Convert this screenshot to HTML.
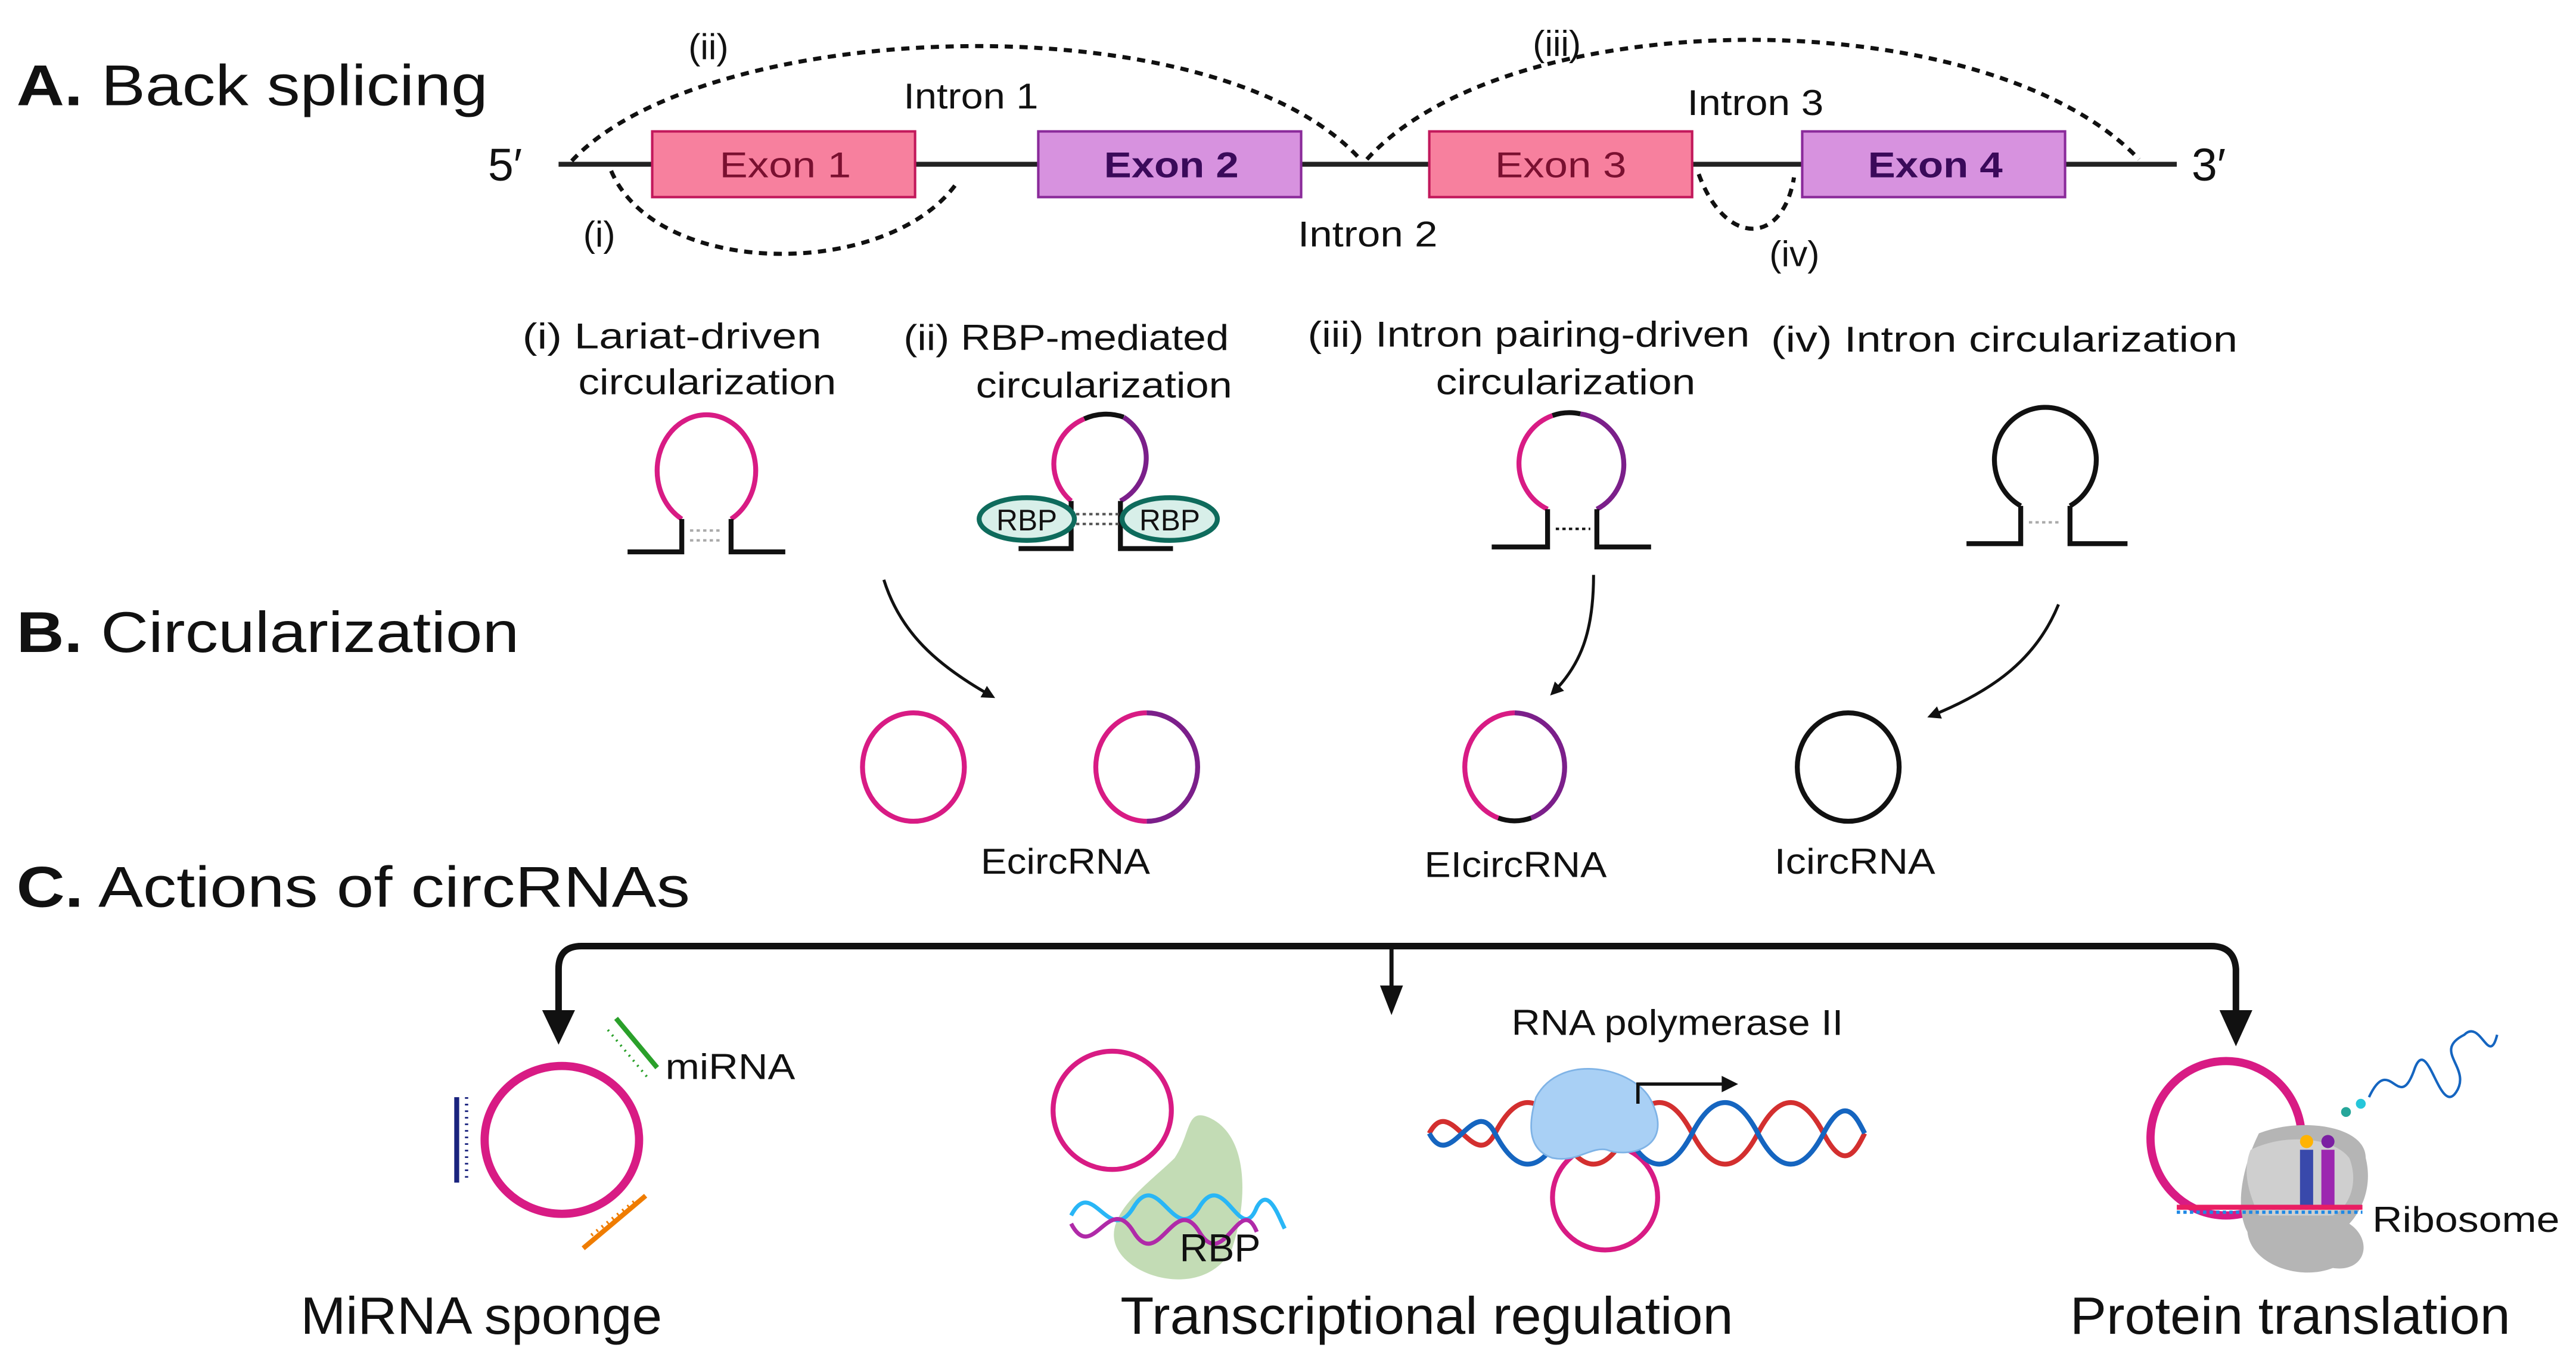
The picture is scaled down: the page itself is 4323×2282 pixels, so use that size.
<!DOCTYPE html>
<html><head><meta charset="utf-8"><style>
html,body{margin:0;padding:0;background:#fff;}
svg{display:block;}
text{font-family:"Liberation Sans",sans-serif;fill:#111;}
</style></head><body>
<svg width="4323" height="2282" viewBox="0 0 1568 828" preserveAspectRatio="none" xmlns="http://www.w3.org/2000/svg">
<defs>
<marker id="ah" markerWidth="8" markerHeight="8" refX="6" refY="4" orient="auto" markerUnits="userSpaceOnUse"><path d="M0,0 L8,4 L0,8 Z" fill="#111"/></marker>
</defs>
<!-- Section titles -->
<text x="10" y="64" font-size="35" textLength="287" lengthAdjust="spacingAndGlyphs"><tspan font-weight="bold">A.</tspan> Back splicing</text>
<text x="10" y="397" font-size="35" textLength="306" lengthAdjust="spacingAndGlyphs"><tspan font-weight="bold">B.</tspan> Circularization</text>
<text x="10" y="552" font-size="35" textLength="410" lengthAdjust="spacingAndGlyphs"><tspan font-weight="bold">C.</tspan> Actions of circRNAs</text>

<!-- Gene -->
<line x1="340" y1="100" x2="1325" y2="100" stroke="#222" stroke-width="3"/>
<text x="297" y="110" font-size="28">5′</text>
<text x="1334" y="110" font-size="28">3′</text>
<rect x="397" y="80" width="160" height="40" fill="#f7809e" stroke="#c2185b" stroke-width="1.5"/>
<rect x="632" y="80" width="160" height="40" fill="#d792df" stroke="#8a2a9a" stroke-width="1.5"/>
<rect x="870" y="80" width="160" height="40" fill="#f7809e" stroke="#c2185b" stroke-width="1.5"/>
<rect x="1097" y="80" width="160" height="40" fill="#d792df" stroke="#8a2a9a" stroke-width="1.5"/>
<text x="438" y="108" font-size="22" textLength="80" lengthAdjust="spacingAndGlyphs" style="fill:#7a1030">Exon 1</text>
<text x="672" y="108" font-size="22" textLength="82" lengthAdjust="spacingAndGlyphs" font-weight="bold" style="fill:#3a0a5a">Exon 2</text>
<text x="910" y="108" font-size="22" textLength="80" lengthAdjust="spacingAndGlyphs" style="fill:#7a1030">Exon 3</text>
<text x="1137" y="108" font-size="22" textLength="82" lengthAdjust="spacingAndGlyphs" font-weight="bold" style="fill:#3a0a5a">Exon 4</text>
<g fill="none" stroke="#111" stroke-width="2.5" stroke-dasharray="5,4">
<path d="M348,98 C430,10 740,0 828,97"/>
<path d="M832,97 C920,0 1210,0 1302,97"/>
<path d="M372,104 C400,170 540,170 582,112"/>
<path d="M1034,106 C1050,150 1085,150 1092,108"/>
</g>
<g font-size="22" style="fill:#333">
<text x="419" y="36">(ii)</text>
<text x="933" y="34">(iii)</text>
<text x="550" y="66" textLength="82" lengthAdjust="spacingAndGlyphs">Intron 1</text>
<text x="1027" y="70" textLength="83" lengthAdjust="spacingAndGlyphs">Intron 3</text>
<text x="355" y="150">(i)</text>
<text x="790" y="150" textLength="85" lengthAdjust="spacingAndGlyphs">Intron 2</text>
<text x="1077" y="162">(iv)</text>
</g>

<!-- mechanism labels -->
<g font-size="22">
<text x="318" y="212" textLength="182" lengthAdjust="spacingAndGlyphs">(i) Lariat-driven</text>
<text x="352" y="240" textLength="157" lengthAdjust="spacingAndGlyphs">circularization</text>
<text x="550" y="213" textLength="198" lengthAdjust="spacingAndGlyphs">(ii) RBP-mediated</text>
<text x="594" y="242" textLength="156" lengthAdjust="spacingAndGlyphs">circularization</text>
<text x="796" y="211" textLength="269" lengthAdjust="spacingAndGlyphs">(iii) Intron pairing-driven</text>
<text x="874" y="240" textLength="158" lengthAdjust="spacingAndGlyphs">circularization</text>
<text x="1078" y="214" textLength="284" lengthAdjust="spacingAndGlyphs">(iv) Intron circularization</text>
</g>

<!-- hairpins -->
<g fill="none" stroke-width="3">
<path d="M415,316 A30,34 0 1,1 445,316" stroke="#d81b84"/>
<path d="M382,336 H415 V316 M445,316 V336 H478" stroke="#111"/>
<line x1="420" y1="323" x2="440" y2="323" stroke="#aaa" stroke-width="1.5" stroke-dasharray="2,2"/>
<line x1="420" y1="329" x2="440" y2="329" stroke="#aaa" stroke-width="1.5" stroke-dasharray="2,2"/>

<path d="M652,305 A31,30 0 0,1 660,255" stroke="#d81b84"/>
<path d="M660,255 A31,30 0 0,1 684,254" stroke="#111"/>
<path d="M684,254 A31,30 0 0,1 682,305" stroke="#7b1f8a"/>
<path d="M620,334 H652 V305 M682,305 V334 H714" stroke="#111"/>

<path d="M942,310 A31,31 0 0,1 945,253" stroke="#d81b84"/>
<path d="M945,253 A31,31 0 0,1 962,252" stroke="#111"/>
<path d="M962,252 A31,31 0 0,1 972,310" stroke="#7b1f8a"/>
<path d="M908,333 H942 V310 M972,310 V333 H1005" stroke="#111"/>
<line x1="947" y1="322" x2="968" y2="322" stroke="#111" stroke-width="1.5" stroke-dasharray="2,2"/>

<path d="M1230,308 A31,32 0 1,1 1260,308" stroke="#111"/>
<path d="M1197,331 H1230 V308 M1260,308 V331 H1295" stroke="#111"/>
<line x1="1235" y1="318" x2="1255" y2="318" stroke="#aaa" stroke-width="1.5" stroke-dasharray="2,2"/>
</g>
<!-- RBPs -->
<g>
<ellipse cx="625" cy="316" rx="29" ry="13" fill="#d8efe9" stroke="#0e6b5c" stroke-width="3"/>
<ellipse cx="712" cy="316" rx="29" ry="13" fill="#d8efe9" stroke="#0e6b5c" stroke-width="3"/>
<text x="625" y="323" font-size="18" text-anchor="middle">RBP</text>
<text x="712" y="323" font-size="18" text-anchor="middle">RBP</text>
<line x1="655" y1="313" x2="683" y2="313" stroke="#555" stroke-width="1.5" stroke-dasharray="2,2"/>
<line x1="655" y1="319" x2="683" y2="319" stroke="#555" stroke-width="1.5" stroke-dasharray="2,2"/>
</g>

<!-- B arrows -->
<g fill="none" stroke="#111" stroke-width="1.8">
<path d="M538,353 C548,385 570,405 604,424" marker-end="url(#ah)"/>
<path d="M970,350 C970,385 962,405 945,422" marker-end="url(#ah)"/>
<path d="M1253,368 C1240,400 1215,420 1175,436" marker-end="url(#ah)"/>
</g>
<!-- circles -->
<g fill="none" stroke-width="3">
<ellipse cx="556" cy="467" rx="31" ry="33" stroke="#d81b84"/>
<path d="M698,434 A31,33 0 0,0 698,500" stroke="#d81b84"/>
<path d="M698,434 A31,33 0 0,1 698,500" stroke="#7b1f8a"/>
<path d="M922,434 A31,33 0 0,0 912,498" stroke="#d81b84"/>
<path d="M922,434 A31,33 0 0,1 932,498" stroke="#7b1f8a"/>
<path d="M912,498 A31,33 0 0,0 932,498" stroke="#111"/>
<ellipse cx="1125" cy="467" rx="31" ry="33" stroke="#111"/>
</g>
<g font-size="22">
<text x="597" y="532" textLength="103" lengthAdjust="spacingAndGlyphs">EcircRNA</text>
<text x="867" y="534" textLength="111" lengthAdjust="spacingAndGlyphs">EIcircRNA</text>
<text x="1080" y="532" textLength="98" lengthAdjust="spacingAndGlyphs">IcircRNA</text>
</g>

<!-- C bracket -->
<g fill="none" stroke="#111" stroke-width="4">
<path d="M340,630 V590 Q340,576 354,576 H1346 Q1360,576 1361,590 V630"/>
<line x1="847" y1="576" x2="847" y2="610" stroke-width="2.5"/>
</g>
<path d="M330,615 L350,615 L340,636 Z" fill="#111"/>
<path d="M1351,615 L1371,615 L1361,637 Z" fill="#111"/>
<path d="M840,600 L854,600 L847,618 Z" fill="#111"/>

<!-- miRNA sponge -->
<ellipse cx="342" cy="694" rx="47" ry="45" fill="none" stroke="#d81b84" stroke-width="5"/>
<path d="M375,620 L400,650" stroke="#2aa02a" stroke-width="3"/>
<path d="M370,627 L395,657" stroke="#2aa02a" stroke-width="1.5" stroke-dasharray="1,3"/>
<path d="M278,668 V720" stroke="#1a237e" stroke-width="3"/>
<path d="M284,668 V720" stroke="#1a237e" stroke-width="2" stroke-dasharray="1,3"/>
<path d="M355,760 L393,728" stroke="#ef7c00" stroke-width="3"/>
<path d="M360,752 L388,730" stroke="#ef7c00" stroke-width="2" stroke-dasharray="1,3"/>
<text x="405" y="657" font-size="22" textLength="79" lengthAdjust="spacingAndGlyphs">miRNA</text>

<!-- transcriptional -->
<path d="M735,680 C760,690 760,730 750,760 C735,790 690,780 680,760 C670,740 700,720 715,705 C725,690 722,675 735,680 Z" fill="#b9d6a8" opacity="0.85"/>
<ellipse cx="677" cy="676" rx="36" ry="36" fill="none" stroke="#d81b84" stroke-width="3"/>
<path d="M652,740 C665,715 675,760 690,735 C705,710 715,760 730,735 C745,710 755,760 765,735 C772,722 778,740 782,748" fill="none" stroke="#29b6f6" stroke-width="2.5"/>
<path d="M652,745 C665,770 675,725 690,750 C705,775 715,725 730,750 C745,775 755,725 765,750" fill="none" stroke="#b02aa8" stroke-width="2.5"/>
<text x="718" y="768" font-size="24">RBP</text>

<text x="920" y="630" font-size="22" textLength="202" lengthAdjust="spacingAndGlyphs">RNA polymerase II</text>
<ellipse cx="977" cy="729" rx="32" ry="32" fill="none" stroke="#d81b84" stroke-width="3"/>
<g fill="none" stroke-width="3">
<path d="M870,690 C883,665 897,715 910,690 S937,665 950,690 S977,715 990,690 S1017,665 1030,690 S1057,715 1070,690 S1097,665 1110,690 S1130,700 1135,690" stroke="#d32f2f"/>
<path d="M870,690 C883,715 897,665 910,690 S937,715 950,690 S977,665 990,690 S1017,715 1030,690 S1057,665 1070,690 S1097,715 1110,690 S1130,680 1135,690" stroke="#1565c0"/>
</g>
<path d="M935,668 C950,640 995,650 1005,670 C1020,700 990,705 978,700 C968,698 960,708 945,705 C930,700 930,685 935,668 Z" fill="#a9d0f5" stroke="#7fb3e6" stroke-width="1"/>
<path d="M997,672 V660 H1050" fill="none" stroke="#111" stroke-width="2"/>
<path d="M1048,655 L1058,660 L1048,665 Z" fill="#111"/>

<!-- protein translation -->
<ellipse cx="1355" cy="693" rx="46" ry="47" fill="none" stroke="#d81b84" stroke-width="5"/>
<path d="M1375,690 C1400,680 1440,685 1440,705 C1445,725 1435,740 1430,745 C1445,755 1440,775 1420,772 C1400,780 1370,770 1368,750 C1360,735 1365,710 1375,690 Z" fill="#b5b5b5"/>
<path d="M1370,700 C1390,690 1420,692 1430,705 C1436,720 1430,735 1420,740 L1375,740 C1368,725 1365,712 1370,700 Z" fill="#cfcfcf"/>
<rect x="1400" y="700" width="8" height="36" fill="#3949ab"/>
<rect x="1413" y="700" width="8" height="36" fill="#9c27b0"/>
<circle cx="1404" cy="695" r="4" fill="#ffb300"/>
<circle cx="1417" cy="695" r="4" fill="#7b1fa2"/>
<line x1="1325" y1="735" x2="1438" y2="735" stroke="#e91e63" stroke-width="3"/>
<line x1="1325" y1="738" x2="1438" y2="738" stroke="#1e88e5" stroke-width="2" stroke-dasharray="2,2"/>
<circle cx="1428" cy="677" r="3" fill="#26a69a"/>
<circle cx="1437" cy="672" r="3" fill="#26c6da"/>
<path d="M1442,668 C1455,640 1460,680 1470,650 C1478,630 1485,680 1495,665 C1505,650 1480,640 1500,630 C1510,620 1515,650 1520,630" fill="none" stroke="#1565c0" stroke-width="1.5"/>
<text x="1444" y="750" font-size="22" textLength="114" lengthAdjust="spacingAndGlyphs">Ribosome</text>

<!-- bottom labels -->
<text x="183" y="812" font-size="32" textLength="220" lengthAdjust="spacingAndGlyphs">MiRNA sponge</text>
<text x="682" y="812" font-size="32" textLength="373" lengthAdjust="spacingAndGlyphs">Transcriptional regulation</text>
<text x="1260" y="812" font-size="32" textLength="268" lengthAdjust="spacingAndGlyphs">Protein translation</text>
</svg>
</body></html>
